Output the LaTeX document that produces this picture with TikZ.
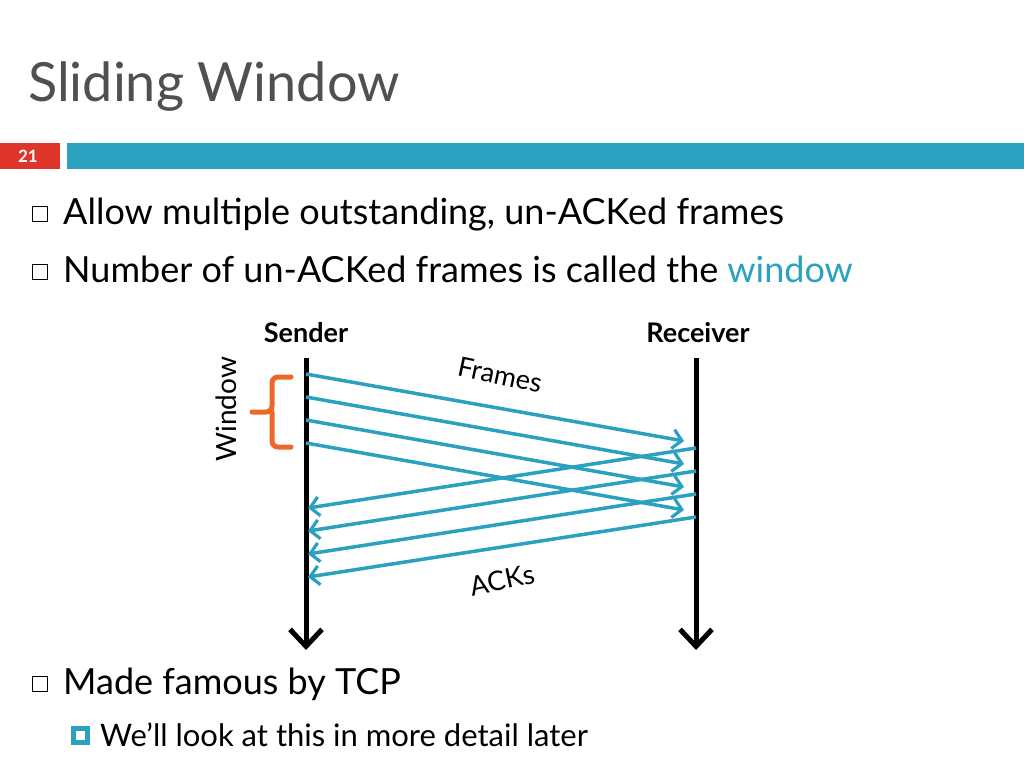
\documentclass[tikz,border=0pt]{standalone}
\usepackage{fontspec}
\setmainfont{Lato}
\usetikzlibrary{arrows.meta}
\definecolor{slideblue}{RGB}{42,161,190}
\definecolor{sliderred}{RGB}{222,52,42}
\definecolor{braceorange}{RGB}{236,104,40}
\definecolor{titlegrey}{RGB}{80,80,80}
\begin{document}
\begin{tikzpicture}[x=1pt,y=-1pt,
  timeline/.style={line width=5pt,-{Straight Barb[length=17pt,width=32pt,line width=5pt]}},
  msg/.style={slideblue,line width=3.5pt,-{Straight Barb[length=9pt,width=19pt,line width=3.2pt]}},
  bullet/.style={draw,line width=1.2pt,minimum size=15pt,inner sep=0pt},
  item/.style={anchor=base west,inner sep=0pt,font=\fontsize{36}{36}\selectfont}]
  \useasboundingbox (0,0) rectangle (1024,768);
  \fill[white] (0,0) rectangle (1024,768);

  % title and bar
  \node[anchor=base west,inner sep=0pt,text=titlegrey,font=\fontsize{54}{54}\selectfont] (title) at (28,101) {Sliding Window};
  \fill[sliderred] (0,143) rectangle (60,169);
  \node[text=white,font=\bfseries\fontsize{17}{17}\selectfont] (num) at (28,156) {21};
  \fill[slideblue] (67,143) rectangle (1024,169);

  % bullets
  \node[bullet] (b1) at (40,214) {};
  \node[item] (t1) at (63,224) {Allow multiple outstanding, un-ACKed frames};
  \node[bullet] (b2) at (40,272) {};
  \node[item] (t2) at (63,282) {Number of un-ACKed frames is called the \textcolor{slideblue}{window}};
  \node[bullet] (b3) at (40,684) {};
  \node[item] (t3) at (63,694) {Made famous by TCP};
  \node[fill=slideblue,minimum size=19pt,inner sep=0pt] (b4) at (80,735) {};
  \fill[white] (75.5,730.5) rectangle (84.5,739.5);
  \node[item,font=\fontsize{31}{31}\selectfont] (t4) at (100,746) {We’ll look at this in more detail later};

  % time lines
  \node[font=\bfseries\fontsize{27}{27}\selectfont] (sender) at (306,333) {Sender};
  \node[font=\bfseries\fontsize{27}{27}\selectfont] (receiver) at (698,333) {Receiver};
  \coordinate (s0) at (306,358);
  \coordinate (s1) at (306,650);
  \coordinate (r0) at (696,358);
  \coordinate (r1) at (696,650);
  \draw[timeline] (s0) -- (s1);
  \draw[timeline] (r0) -- (r1);

  % frames and acks
  \foreach \i in {0,1,2,3} {
    \coordinate (f\i) at (306,374+23*\i);
    \coordinate (g\i) at (684,441+23*\i);
    \coordinate (a\i) at (696,448+23*\i);
    \coordinate (k\i) at (308,508+23*\i);
    \draw[msg] (f\i) -- (g\i);
    \draw[msg] (a\i) -- (k\i);
  }
  \node[rotate=-12,font=\fontsize{27}{27}\selectfont] (frames) at (500,375) {Frames};
  \node[rotate=12,font=\fontsize{27}{27}\selectfont] (acks) at (502,580) {ACKs};

  % window brace
  \draw[braceorange,line width=5pt,line cap=round,rounded corners=6pt]
    (291,377) -- (272,377) -- (272,412) -- (252,412) (272,412) -- (272,447) -- (291,447);
  \node[rotate=90,font=\fontsize{28}{28}\selectfont] (window) at (226,409) {Window};
\end{tikzpicture}
\end{document}
